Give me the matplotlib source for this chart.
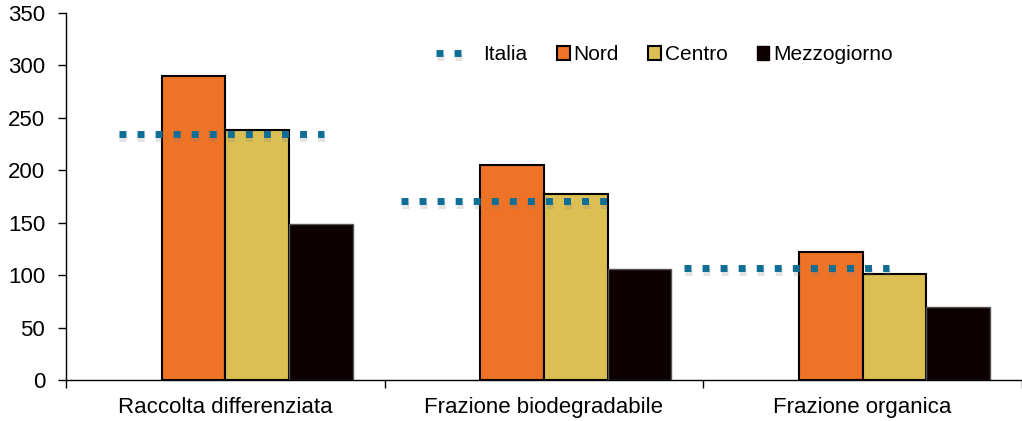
import numpy as np
import matplotlib
matplotlib.use("Agg")
import matplotlib.pyplot as plt
import matplotlib.patheffects as pe
from matplotlib.lines import Line2D
from matplotlib.patches import Patch

categories = ["Raccolta differenziata", "Frazione biodegradabile", "Frazione organica"]
nord = [290, 205, 122]
centro = [238, 177, 101]
mezzogiorno = [149, 106, 70]
italia = [235, 171, 107]

c_nord, c_centro, c_mezz, c_ita = "#EE7326", "#DBBF52", "#0C0000", "#0F6E96"

plt.rcParams["font.family"] = ["Liberation Sans", "DejaVu Sans"]
fig = plt.figure(figsize=(10.22, 4.21), dpi=100)
ax = fig.add_axes([66 / 1022, 1 - 380 / 421, 1 - 66 / 1022, 367 / 421])

x = np.arange(len(categories))
w = 0.2
ax.bar(x - 0.1, nord, w, color=c_nord, edgecolor="black", lw=1.5, zorder=2)
ax.bar(x + 0.1, centro, w, color=c_centro, edgecolor="black", lw=1.5, zorder=2)
ax.bar(x + 0.3, mezzogiorno, w, color=c_mezz, edgecolor="#555555", lw=1.0, zorder=2)

# Italia: dotted horizontal segments (drift left a bit per category, as in the original)
dots = (0, (1, 1.6))
shadow = [pe.SimpleLineShadow(offset=(0.5, -3), alpha=0.22, shadow_color="gray"), pe.Normal()]
for i, v in enumerate(italia):
    x0 = i - 0.335 - 0.113 * i
    ax.plot([x0, x0 + 0.645], [v, v], color=c_ita, lw=5, ls=dots,
            dash_capstyle="butt", zorder=3, path_effects=shadow)

ax.set_xlim(-0.5, 956 / 322 - 0.5)
ax.set_ylim(0, 350)
ax.set_yticks(range(0, 351, 50))
ax.set_xticks(x)
ax.set_xticklabels(categories)
ax.set_xticks(np.arange(-0.5, 3, 1), minor=True)
ax.tick_params(axis="x", which="major", length=0, pad=12, labelsize=16)
ax.tick_params(axis="x", which="minor", length=6, width=1)
ax.tick_params(axis="y", length=6, width=1, pad=9, labelsize=16)
for s in ("top", "right"):
    ax.spines[s].set_visible(False)
for s in ("left", "bottom"):
    ax.spines[s].set_linewidth(1)

h_ita = [Line2D([], [], color=c_ita, lw=5, ls=dots, dash_capstyle="butt",
                path_effects=shadow)]
leg1 = ax.legend(h_ita, ["Italia"], loc="center left", bbox_to_anchor=((436 - 66) / 956, 0.886),
                 frameon=False, fontsize=15, handlelength=1.6, handletextpad=0.65,
                 borderpad=0, borderaxespad=0)
ax.add_artist(leg1)
h_bars = [Patch(facecolor=c_nord, edgecolor="black", lw=1.5),
          Patch(facecolor=c_centro, edgecolor="black", lw=1.5),
          Patch(facecolor=c_mezz, edgecolor=c_mezz, lw=1.0)]
ax.legend(h_bars, ["Nord", "Centro", "Mezzogiorno"], loc="center left",
          bbox_to_anchor=((557 - 66) / 956, 0.886), ncol=3, frameon=False, fontsize=15,
          handlelength=0.6, handleheight=0.6, handletextpad=0.2, columnspacing=1.4,
          borderpad=0, borderaxespad=0)

fig.savefig("out.png", dpi=100)
